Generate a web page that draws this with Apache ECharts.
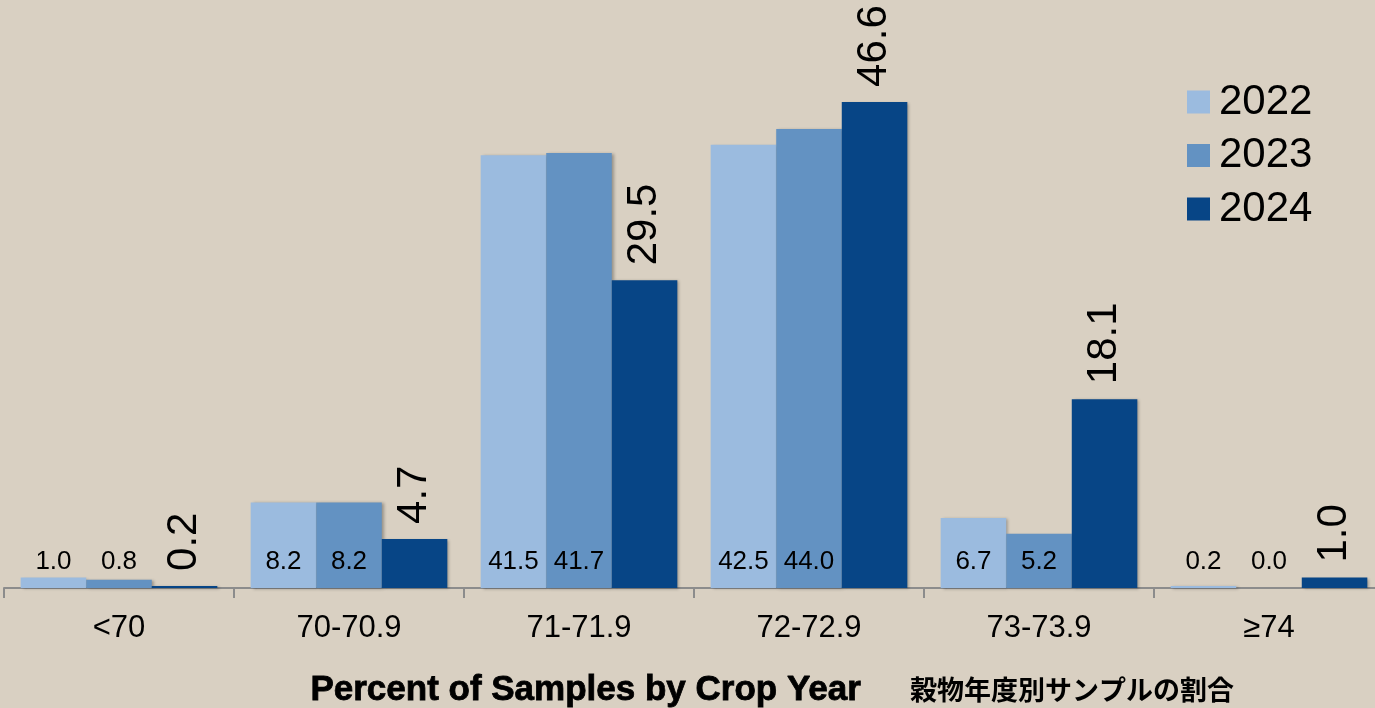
<!DOCTYPE html>
<html>
<head>
<meta charset="utf-8">
<script src="https://cdn.jsdelivr.net/npm/echarts@6/dist/echarts.min.js"></script>
<style>
html,body{margin:0;padding:0;background:#D9D0C2;overflow:hidden;width:1375px;height:708px;}
#c{width:1400px;height:708px;}
</style>
</head>
<body>
<div id="c"></div>
<script>
const categories = ['<70', '70-70.9', '71-71.9', '72-72.9', '73-73.9', '≥74'];
const seriesNames = ['2022', '2023', '2024'];
const values2022 = [1.0, 8.2, 41.5, 42.5, 6.7, 0.2];
const values2023 = [0.8, 8.2, 41.7, 44.0, 5.2, 0.0];
const values2024 = [0.2, 4.7, 29.5, 46.6, 18.1, 1.0];
const colors = ['#9BBBDF', '#6392C2', '#074586'];
const titleEn = 'Percent of Samples by Crop Year';
const titleJa = '穀物年度別サンプルの割合';

const chart = echarts.init(document.getElementById('c'), null, {renderer: 'canvas'});
const font = 'Liberation Sans, Arial, sans-serif';
const barShadow = {shadowColor: 'rgba(0,0,0,0.3)', shadowBlur: 3, shadowOffsetX: 2, shadowOffsetY: 1};

const flatLabel = {
  show: true, position: 'insideBottom', distance: 13,
  fontSize: 26, fontFamily: font, color: '#000',
  formatter: p => p.value.toFixed(1)
};
const rotLabel = {
  show: true, position: 'top', rotate: 90, align: 'left', verticalAlign: 'middle',
  distance: 15, fontSize: 42, fontFamily: font, color: '#000',
  formatter: p => p.value.toFixed(1)
};

chart.setOption({
  backgroundColor: '#D9D0C2',
  animation: false,
  color: colors,
  grid: {left: 4, top: 66.5, width: 1380, height: 521.5},
  legend: {
    orient: 'vertical', left: 1182, top: 76, itemWidth: 23, itemHeight: 23, itemGap: 11.5,
    icon: 'rect',
    textStyle: {fontSize: 42, fontFamily: font, color: '#000', padding: [0, 0, 0, 4]},
    data: seriesNames
  },
  xAxis: {
    type: 'category', data: categories,
    axisLine: {lineStyle: {color: '#8C8C8C', width: 2}},
    axisTick: {show: true, length: 10, lineStyle: {color: '#8C8C8C', width: 2}},
    axisLabel: {fontSize: 31, fontFamily: font, color: '#000', margin: 25}
  },
  yAxis: {type: 'value', min: 0, max: 50, show: false, splitLine: {show: false}},
  series: [
    {name: seriesNames[0], type: 'bar', data: values2022, barGap: '0%', barCategoryGap: '14.5%',
     itemStyle: Object.assign({color: colors[0]}, barShadow), label: flatLabel},
    {name: seriesNames[1], type: 'bar', data: values2023, barGap: '0%', barCategoryGap: '14.5%',
     itemStyle: Object.assign({color: colors[1]}, barShadow), label: flatLabel},
    {name: seriesNames[2], type: 'bar', data: values2024, barGap: '0%', barCategoryGap: '14.5%',
     itemStyle: Object.assign({color: colors[2]}, barShadow), label: rotLabel}
  ],
  graphic: [
    {type: 'text', left: 310, top: 672,
     style: {text: titleEn, fontSize: 35, fontWeight: 'bold', fontFamily: font, fill: '#000',
             stroke: '#000', lineWidth: 0.8}},
    {type: 'text', left: 910, top: 676,
     style: {text: titleJa, fontSize: 27, fontWeight: 'bold', fontFamily: 'Noto Sans CJK JP', fill: '#000'}}
  ]
});
</script>
</body>
</html>
